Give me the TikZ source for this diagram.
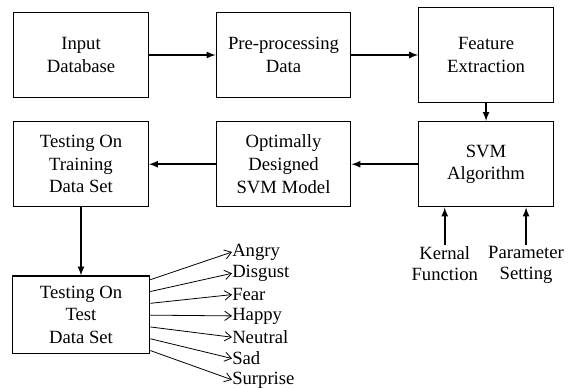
\documentclass[tikz,border=0pt]{standalone}
\usepackage{fontspec}
\setmainfont{Liberation Serif}
\usetikzlibrary{arrows, arrows.meta, positioning}
\tikzset{block/.style={draw, line width=0.9pt, align=center, minimum width=101pt, minimum height=64pt, font=\rmfamily\fontsize{14}{17}\selectfont},
  lbl/.style={align=center, inner sep=1pt, font=\rmfamily\fontsize{14}{16}\selectfont},
  flow/.style={->, line width=1.3pt},
  emo/.style={-{Straight Barb[length=5pt, width=7pt]}, line width=0.6pt}}

\begin{document}
\begin{tikzpicture}[x=0.75pt, y=-0.75pt, >=latex, node distance=50pt]
\useasboundingbox (0,0) rectangle (572,387);
\node[block] (input) at (81,55) {Input\\Database};
\node[block, right=of input] (prep) {Pre-processing\\Data};
\node[block, right=of prep, minimum height=71pt] (feat) {Feature\\Extraction};
\node[block, below=13.5pt of feat] (svm) {SVM\\Algorithm};
\node[block, left=of svm] (opt) {Optimally\\Designed\\SVM Model};
\node[block, left=of opt] (train) {Testing On\\Training\\Data Set};
\node[block, below=51pt of train, minimum width=103pt, minimum height=58pt] (test) {Testing On\\Test\\Data Set};
\node[lbl, anchor=north] (kernal) at ([xshift=-31pt, yshift=-28pt]svm.south) {Kernal\\Function};
\node[lbl, anchor=north] (param) at ([xshift=30pt, yshift=-28pt]svm.south) {Parameter\\Setting};
\draw[flow] (input) -- (prep);
\draw[flow] (prep) -- (feat);
\draw[flow] (feat) -- (svm);
\draw[flow] (svm) -- (opt);
\draw[flow] (opt) -- (train);
\draw[flow] (train) -- (test);
\draw[flow] (kernal.north) -- (kernal.north |- svm.south);
\draw[flow] (param.north) -- (param.north |- svm.south);
% emotion classes
\foreach \e [count=\i] in {Angry,Disgust,Fear,Happy,Neutral,Sad,Surprise} {
  \node[lbl, anchor=west, inner sep=0pt] (e\i) at (232, {252+21.3*(\i-1)}) {\e};
  \draw[emo] ([yshift={26.25pt-8.85pt*(\i-1)}]test.east) -- (e\i.west);
}
\end{tikzpicture}
\end{document}
